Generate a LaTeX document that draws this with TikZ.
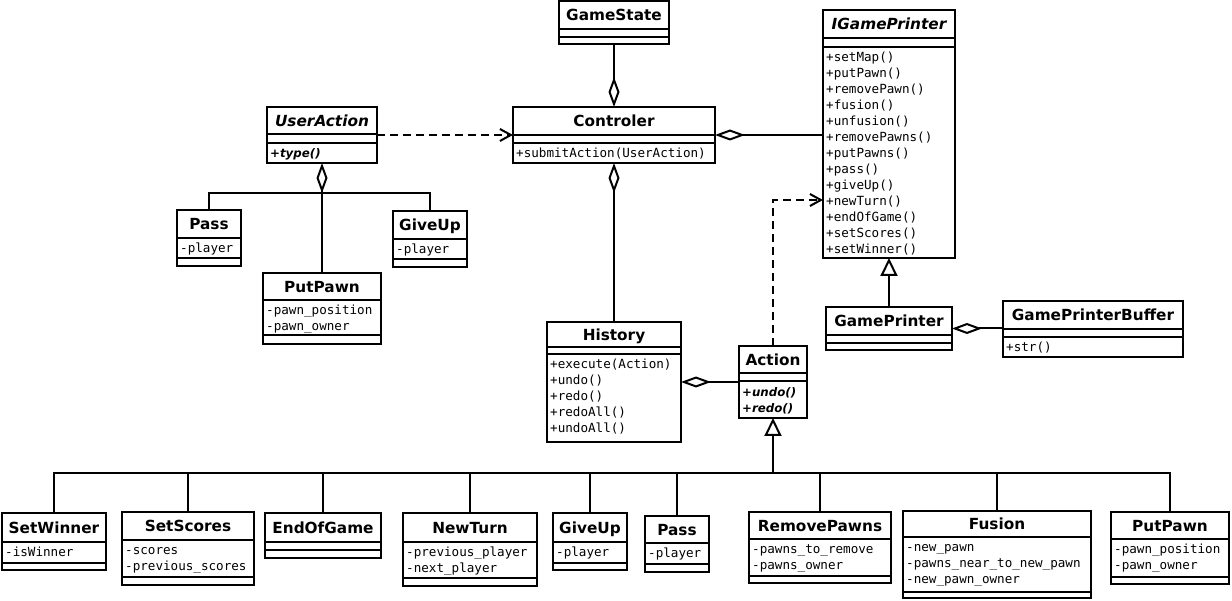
\documentclass[tikz,border=0pt]{standalone}
\usepackage{fontspec}
\setmainfont{DejaVu Sans}
\newfontfamily\monof{DejaVu Sans Mono}
\usetikzlibrary{arrows.meta}
\tikzset{
  cls/.style={draw, line width=2pt, inner sep=0pt, outer sep=0pt, fill=white},
  clsline/.style={line width=2pt},
  ttl/.style={inner sep=0pt, font=\fontsize{15.3}{18}\selectfont\bfseries, text height=11.2pt, text depth=0pt},
  ittl/.style={inner sep=0pt, font=\fontsize{15.3}{18}\selectfont\bfseries\itshape, text height=11.2pt, text depth=0pt},
  mem/.style={inner sep=0pt, anchor=west, font=\fontsize{12.6}{16}\selectfont\monof, text height=9.2pt, text depth=0pt},
  abst/.style={inner sep=0pt, anchor=west, font=\fontsize{11.8}{16}\selectfont\bfseries\itshape, text height=8.6pt, text depth=0pt},
  conn/.style={line width=2pt},
  agg/.style={conn, {Diamond[open, length=30pt, width=11pt, line width=2pt]}-},
  dep/.style={conn, dash pattern=on 8pt off 5pt, -{Straight Barb[length=11pt, width=12pt, line width=2pt]}},
  inh/.style={conn, -{Triangle[open, length=18pt, width=17pt, line width=2pt]}},
}
% #1 name, #2 x1, #3 y1, #4 x2, #5 y2, #6 sep1, #7 sep2, #8 title style, #9 title
\newcommand\ucls[9]{%
  \node[cls, minimum width={#4-#2}, minimum height={#5-#3}, anchor=north west] (#1) at (#2,-#3) {};
  \draw[clsline] (#2,-#6) -- (#4,-#6) (#2,-#7) -- (#4,-#7);
  \node[#8] (#1-name) at ({(#2+#4)/2},{-(#3+#6)/2}) {#9};
}
% [#1 style] #2 name, #3 x1, #4 y of separator, #5 list
\newcommand\ulines[5][mem]{%
  \foreach \t [count=\i from 0] in {#5}
    \node[#1] (#2-m\i) at (#3+3,{-(#4+10+16*\i)}) {\t};
}
\begin{document}
\begin{tikzpicture}[x=1pt,y=1pt]
\useasboundingbox (0,0) rectangle (1232,-601);
\fill[white] (0,0) rectangle (1232,-601);

% top classes
\ucls{gamestate}{559}{1}{669}{44}{29}{37}{ttl}{GameState}
\ucls{controler}{513}{107}{715}{163}{135}{143}{ttl}{Controler}
\ulines{controler}{513}{143}{+submitAction(UserAction)}
\ucls{igp}{823}{10}{955}{258}{38}{47}{ittl}{IGamePrinter}
\ulines{igp}{823}{47}{+setMap(),+putPawn(),+removePawn(),+fusion(),+unfusion(),+removePawns(),+putPawns(),+pass(),+giveUp(),+newTurn(),+endOfGame(),+setScores(),+setWinner()}
\ucls{useraction}{267}{107}{377}{163}{134}{143}{ittl}{UserAction}
\ulines[abst]{useraction}{267}{143}{+type()}
\ucls{passA}{177}{210}{241}{266}{238}{258}{ttl}{Pass}
\ulines{passA}{177}{238}{-player}
\ucls{giveupA}{393}{211}{467}{267}{239}{259}{ttl}{GiveUp}
\ulines{giveupA}{393}{239}{-player}
\ucls{putpawnA}{263}{273}{381}{344}{300}{335}{ttl}{PutPawn}
\ulines{putpawnA}{263}{300}{-pawn\_position,-pawn\_owner}
\ucls{history}{547}{322}{681}{442}{347}{354}{ttl}{History}
\ulines{history}{547}{354}{+execute(Action),+undo(),+redo(),+redoAll(),+undoAll()}
\ucls{action}{739}{346}{807}{418}{373}{381}{ttl}{Action}
\ulines[abst]{action}{739}{382}{+undo(),+redo()}
\ucls{gameprinter}{826}{307}{952}{350}{335}{343}{ttl}{GamePrinter}
\ucls{gpbuffer}{1003}{301}{1183}{357}{329}{337}{ttl}{GamePrinterBuffer}
\ulines{gpbuffer}{1003}{337}{+str()}

% bottom row
\ucls{setwinner}{2}{513}{106}{570}{542}{563}{ttl}{SetWinner}
\ulines{setwinner}{2}{542}{-isWinner}
\ucls{setscores}{122}{512}{254}{585}{540}{577}{ttl}{SetScores}
\ulines{setscores}{122}{540}{-scores,-previous\_scores}
\ucls{endofgame}{265}{513}{381}{558}{542}{550}{ttl}{EndOfGame}
\ucls{newturn}{403}{513}{537}{586}{542}{578}{ttl}{NewTurn}
\ulines{newturn}{403}{542}{-previous\_player,-next\_player}
\ucls{giveupB}{553}{513}{627}{570}{542}{563}{ttl}{GiveUp}
\ulines{giveupB}{553}{542}{-player}
\ucls{passB}{645}{516}{709}{572}{543}{564}{ttl}{Pass}
\ulines{passB}{645}{543}{-player}
\ucls{removepawns}{749}{512}{891}{583}{539}{576}{ttl}{RemovePawns}
\ulines{removepawns}{749}{539}{-pawns\_to\_remove,-pawns\_owner}
\ucls{fusion}{903}{511}{1091}{598}{537}{592}{ttl}{Fusion}
\ulines{fusion}{903}{537}{-new\_pawn,-pawns\_near\_to\_new\_pawn,-new\_pawn\_owner}
\ucls{putpawnB}{1111}{512}{1229}{584}{539}{577}{ttl}{PutPawn}
\ulines{putpawnB}{1111}{539}{-pawn\_position,-pawn\_owner}

% connectors
\draw[agg] (controler.north) -- (gamestate.south);
\draw[agg] (controler.east) -- (controler.east -| igp.west);
\draw[agg] (controler.south) -- (controler.south |- history.north);
\draw[dep] (useraction.east) -- (controler.west);
\coordinate (ubus) at (322,-193);
\draw[agg] (useraction.south) -- (useraction.south |- putpawnA.north);
\draw[conn] (passA.north) |- (ubus) -| (giveupA.north);
\draw[agg] (history.east) -- (action.west);
\draw[dep] (action.north) |- ([yshift=-66pt]igp.west);
\draw[inh] (gameprinter.north) -- (gameprinter.north |- igp.south);
\draw[agg] (gameprinter.east) -- (gameprinter.east -| gpbuffer.west);

\coordinate (abus) at (773,-473);
\draw[inh] (abus) -- (action.south);
\draw[conn] (setwinner.north) |- (abus) -| (putpawnB.north);
\foreach \n in {setscores,endofgame,newturn,giveupB,passB,removepawns,fusion}
  \draw[conn] (\n.north) -- (\n.north |- abus);
\end{tikzpicture}
\end{document}
